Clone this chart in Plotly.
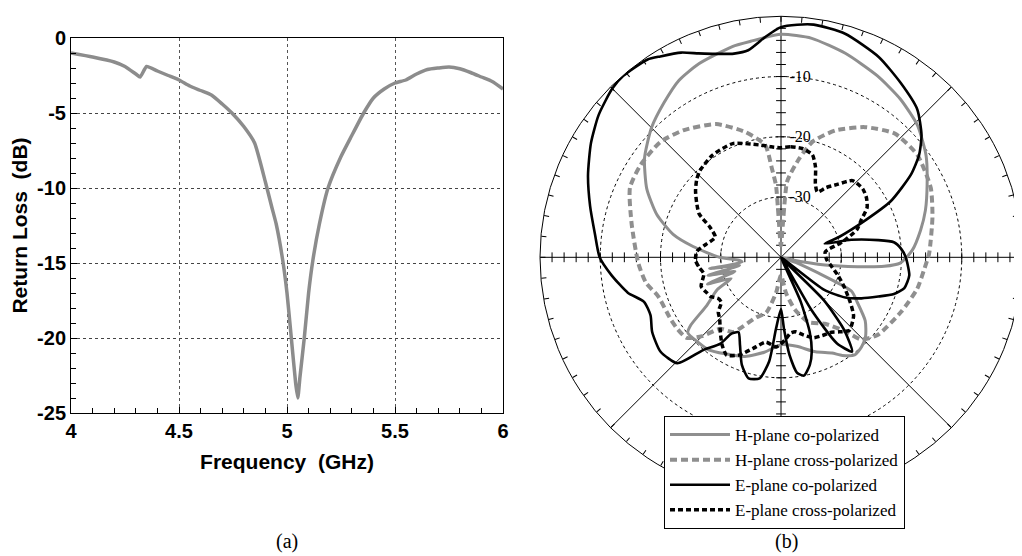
import plotly.graph_objects as go

# ---------------- (a) Return loss ----------------
freq_ghz = [4.0, 4.1, 4.2, 4.25, 4.3, 4.32, 4.35, 4.4, 4.45, 4.5, 4.55, 4.6, 4.65, 4.7,
            4.745, 4.8, 4.85, 4.9, 4.93, 4.95, 4.98, 5.0, 5.02, 5.04, 5.05, 5.06, 5.08,
            5.1, 5.12, 5.15, 5.19, 5.25, 5.3, 5.355, 5.4, 5.45, 5.5, 5.55, 5.6, 5.65,
            5.7, 5.75, 5.8, 5.85, 5.9, 5.95, 6.0]
return_loss_db = [-1.0, -1.27, -1.6, -1.9, -2.4, -2.6, -1.9, -2.2, -2.5, -2.8, -3.2, -3.5, -3.8, -4.4,
                  -5.0, -5.9, -7.0, -9.6, -11.3, -12.4, -14.8, -17.0, -20.0, -23.0, -24.0, -22.6, -20.0,
                  -17.0, -14.8, -12.4, -10.0, -7.9, -6.5, -5.0, -4.0, -3.4, -3.0, -2.8, -2.4, -2.1,
                  -2.0, -1.93, -2.05, -2.3, -2.6, -2.9, -3.4]
x_ticks = [4, 4.5, 5, 5.5, 6]
y_ticks = [-25, -20, -15, -10, -5, 0]
y_ticktext = ["-25", "-20", "-15", "-10", "-5", "0"]

# ---------------- (b) Radiation pattern (angle clockwise from top, deg; level dB) ----------------
h_co_theta = [0, 8, 17.5, 28, 37, 46, 55, 63.5, 72, 79, 87, 92.8, 95, 97, 100, 103, 106, 110,
              115.7, 120, 127, 133, 138, 143, 148, 152, 160, 170, 180, 190, 200, 210, 218, 224,
              231, 233, 237, 243, 247, 250, 253, 256, 259, 261, 263, 266, 270, 277, 282, 289,
              297, 306, 315, 323, 330, 337, 347, 352, 360]
h_co_db = [-3.0, -3.3, -4.5, -5.9, -7.1, -8.5, -10.6, -12.9, -14.8, -16.4, -18.2, -20.2, -22.8, -27.2,
           -32.6, -38, -40, -37, -27, -25.5, -22.5, -20.8, -20.0, -19.7, -20.8, -22.0, -23.3, -25.0,
           -25.5, -24.0, -22.5, -21.5, -20.5, -20.3, -20.1, -21.2, -25.3, -28.1, -31, -27, -32, -27.5,
           -33, -28, -33.5, -33, -29.8, -25.3, -21.7, -18.2, -15.0, -12.0, -9.6, -7.8, -6.1, -5.1,
           -4.1, -3.8, -3.0]

h_x_theta = [0, 3.5, 4.7, 10.5, 15.3, 23.2, 32.8, 42.6, 53.1, 65.1, 75.2, 88.5, 93.4, 103, 114.4,
             128.6, 135.6, 139, 146.6, 157, 165, 172, 180, 188, 195, 202.5, 212.6, 220.5, 225,
             229.5, 235, 240.8, 252.5, 259.3, 267.6, 282.6, 294.7, 303.4, 313.7, 322.4, 334,
             344.2, 352, 354.1, 356, 356.5, 359, 360]
h_x_db = [-38, -33, -27.3, -23.3, -20.1, -17.1, -14.3, -12.1, -11.7, -12.6, -14.0, -15.4, -16.0, -16.8,
          -18.1, -19.4, -20.9, -23.7, -26.8, -28.3, -31, -34, -37, -34, -30.5, -29.2, -25.3, -24.4,
          -21.5, -19.4, -19.1, -19.0, -18.6, -17.2, -16.3, -14.6, -12.4, -12.1, -12.3, -13.4, -15.4,
          -18.4, -21.2, -25.1, -28, -33, -38, -38]

e_co_theta = [0, 4, 8, 16, 26, 34.5, 42.6, 49, 53.5, 57.5, 62.9, 66.4, 70.7, 72.6, 76, 80, 82.4,
              86, 90, 98, 104, 108, 112, 117, 122, 127, 131, 135, 139, 143, 147, 150, 152, 156,
              159, 162, 165, 169, 172, 175, 177.6, 180, 184, 186.5, 190, 195, 200, 205, 209.5,
              213, 215, 220, 224.4, 232, 240, 246, 252, 257, 264, 270, 277, 285, 293, 301, 308,
              315, 319, 326, 329, 334, 338, 342, 347, 351, 356, 360]
e_co_db = [-1.8, -1.3, -1.0, -1.4, -3.0, -4.9, -6.6, -9.1, -11.5, -14.4, -19.5, -24.8, -29.8, -32.4,
           -28.0, -23.6, -21.1, -20.0, -19.3, -18.5, -18.9, -20.3, -22.6, -25.0, -27.4, -31.0, -40,
           -30, -24, -20.4, -23, -30, -40, -32, -26.7, -23.5, -21.5, -20.0, -20.6, -23.7, -28.1,
           -31.4, -28.1, -22.6, -19.6, -19.2, -21.0, -23.9, -25.7, -24.9, -22.5, -19.9, -15.4,
           -14.6, -15.3, -16.3, -16.1, -13.9, -11.7, -9.9, -8.9, -7.2, -5.2, -3.2, -1.6, -0.4,
           -0.1, -0.4, -1.1, -2.2, -3.5, -4.5, -5.3, -5.2, -3.3, -1.8]

e_x_theta = [0, 5, 11, 17, 21, 25, 29, 33, 38, 43, 50, 55, 60, 65, 70, 76, 83, 93, 100, 108, 116,
             123, 129, 137, 142, 146, 152, 158, 164, 169, 173, 177, 183, 190, 197, 203, 209, 214,
             219, 225, 229, 233, 237, 241, 245, 250, 258, 263, 268, 274, 280, 287, 293, 298, 303,
             308, 313, 317, 326, 337, 349, 355, 360]
e_x_db = [-21.8, -21.6, -21.6, -22.2, -24.0, -26.5, -27.6, -26.2, -24.6, -22.6, -22.3, -22.7, -23.5,
          -25.3, -26.6, -29.5, -32.6, -32.4, -31.5, -30.0, -28.2, -26.3, -24.5, -23.4, -24.3, -25.0,
          -25.3, -25.6, -26.6, -27.4, -27.3, -26.3, -25.1, -25.7, -24.2, -22.4, -21.4, -22.5, -24.0,
          -25.6, -26.2, -27.6, -27.5, -26.6, -26.3, -25.9, -26.9, -26.3, -25.8, -26.0, -27.4, -28.6,
          -27.2, -24.6, -23.3, -22.0, -20.9, -20.3, -19.6, -19.5, -21.0, -21.6, -21.8]

radial_range = [-40, 0]
radial_ticks = [-30, -20, -10]
radial_ticktext = ["-30", "-20", "-10"]

for a, b in [(freq_ghz, return_loss_db), (h_co_theta, h_co_db), (h_x_theta, h_x_db),
             (e_co_theta, e_co_db), (e_x_theta, e_x_db)]:
    assert len(a) == len(b), (len(a), len(b))

# page has an 8px body margin: size the figure to fill the rest of the window
OFF = 8
W, H = 1022 - OFF, 556 - OFF


def xp(px):  # page x pixel -> paper fraction
    return (px - OFF) / W


def yp(py):  # page y pixel -> paper fraction
    return 1 - (py - OFF) / H


fig = go.Figure()

# (a)
fig.add_trace(go.Scatter(x=freq_ghz, y=return_loss_db, mode="lines",
                         line=dict(color="#8c8c8c", width=3.5, shape="spline", smoothing=0.5),
                         showlegend=False, xaxis="x", yaxis="y"))

# small radial ticks (every 2 dB) along the four half-axes, drawn in polar (bottom layer)
tick_r = list(range(radial_range[0] + 2, radial_range[1], 2))
for th, sym in [(0, "line-ew"), (180, "line-ew"), (90, "line-ns"), (270, "line-ns")]:
    fig.add_trace(go.Scatterpolar(r=tick_r, theta=[th] * len(tick_r), mode="markers",
                                  marker=dict(symbol=sym, size=7, line=dict(color="black", width=1)),
                                  showlegend=False, hoverinfo="skip", subplot="polar"))

serif = "Liberation Serif"
sm = 0.6
fig.add_trace(go.Scatterpolar(r=h_co_db, theta=h_co_theta, mode="lines", name="H-plane co-polarized",
                              line=dict(color="#8f8f8f", width=3, shape="spline", smoothing=sm),
                              subplot="polar2"))
fig.add_trace(go.Scatterpolar(r=h_x_db, theta=h_x_theta, mode="lines", name="H-plane cross-polarized",
                              line=dict(color="#8f8f8f", width=4, dash="7px,4px", shape="spline",
                                        smoothing=sm), subplot="polar2"))
fig.add_trace(go.Scatterpolar(r=e_co_db, theta=e_co_theta, mode="lines", name="E-plane co-polarized",
                              line=dict(color="black", width=2.6, shape="spline", smoothing=sm),
                              subplot="polar2"))
fig.add_trace(go.Scatterpolar(r=e_x_db, theta=e_x_theta, mode="lines", name="E-plane cross-polarized",
                              line=dict(color="black", width=3.5, dash="5px,3px", shape="spline",
                                        smoothing=sm), subplot="polar2"))

bold = dict(family="Liberation Sans", size=20, color="black", weight="bold")
cx, cy, rad = 540 + 241, 257.3, 241
pdom_x = [xp(540), 1.0]
pdom_y = [yp(cy + rad), yp(cy - rad)]

fig.update_layout(
    width=W, height=H, margin=dict(l=0, r=0, t=0, b=0, autoexpand=False),
    paper_bgcolor="white", plot_bgcolor="white",
    xaxis=dict(domain=[xp(71), xp(503)], range=[4, 6], tickvals=x_ticks, automargin=False,
               ticks="inside", ticklen=6, tickcolor="black",
               showline=True, mirror=True, linecolor="black", linewidth=1,
               showgrid=True, gridcolor="#555555", griddash="dot", gridwidth=1,
               zeroline=False, tickfont=bold,
               minor=dict(tickmode="linear", tick0=4, dtick=0.1, ticks="inside", ticklen=5,
                          tickcolor="black", showgrid=False),
               title=dict(text="Frequency  (GHz)", font=dict(family="Liberation Sans", size=21,
                                                            color="black", weight="bold"),
                          standoff=13)),
    yaxis=dict(domain=[yp(413), yp(38)], range=[-25, 0], tickvals=y_ticks, ticktext=y_ticktext,
               automargin=False,
               ticks="inside", ticklen=6, tickcolor="black",
               showline=True, mirror=True, linecolor="black", linewidth=1,
               showgrid=True, gridcolor="#444444", griddash="dot", gridwidth=1,
               zeroline=False, tickfont=bold,
               minor=dict(tickmode="linear", tick0=0, dtick=1, ticks="inside", ticklen=5,
                          tickcolor="black", showgrid=False),
               title=dict(text="Return Loss  (dB)", font=dict(family="Liberation Sans", size=21,
                                                             color="black", weight="bold"),
                          standoff=6)),
    polar=dict(domain=dict(x=pdom_x, y=pdom_y), bgcolor="white",
               angularaxis=dict(rotation=90, direction="clockwise", dtick=5, ticks="inside",
                                ticklen=5, tickcolor="black", tickwidth=1, showticklabels=False,
                                showgrid=False, showline=True, linecolor="black", linewidth=1),
               radialaxis=dict(range=radial_range, visible=False)),
    polar2=dict(domain=dict(x=pdom_x, y=pdom_y), bgcolor="rgba(0,0,0,0)",
                angularaxis=dict(rotation=90, direction="clockwise", dtick=45, ticks="",
                                 showticklabels=False, showgrid=True, gridcolor="black",
                                 gridwidth=1, showline=False),
                radialaxis=dict(range=radial_range, tickvals=radial_ticks,
                                ticktext=["\u2002" + t for t in radial_ticktext],
                                angle=90, tickangle=90, showline=False, ticks="", showgrid=True,
                                gridcolor="black", griddash="dot", gridwidth=1,
                                tickfont=dict(family=serif, size=16, color="black"))),
    legend=dict(x=xp(664), y=yp(416), xanchor="left", yanchor="top",
                bordercolor="black", borderwidth=1, bgcolor="white",
                font=dict(family=serif, size=17, color="black"), itemwidth=60,
                tracegroupgap=0),
    annotations=[
        dict(text="(a)", x=xp(287), y=yp(541), xref="paper", yref="paper", showarrow=False,
             xanchor="center", yanchor="middle", font=dict(family=serif, size=20, color="black")),
        dict(text="(b)", x=xp(786), y=yp(541), xref="paper", yref="paper", showarrow=False,
             xanchor="center", yanchor="middle", font=dict(family=serif, size=20, color="black")),
    ],
)

fig.write_html("out.html")
